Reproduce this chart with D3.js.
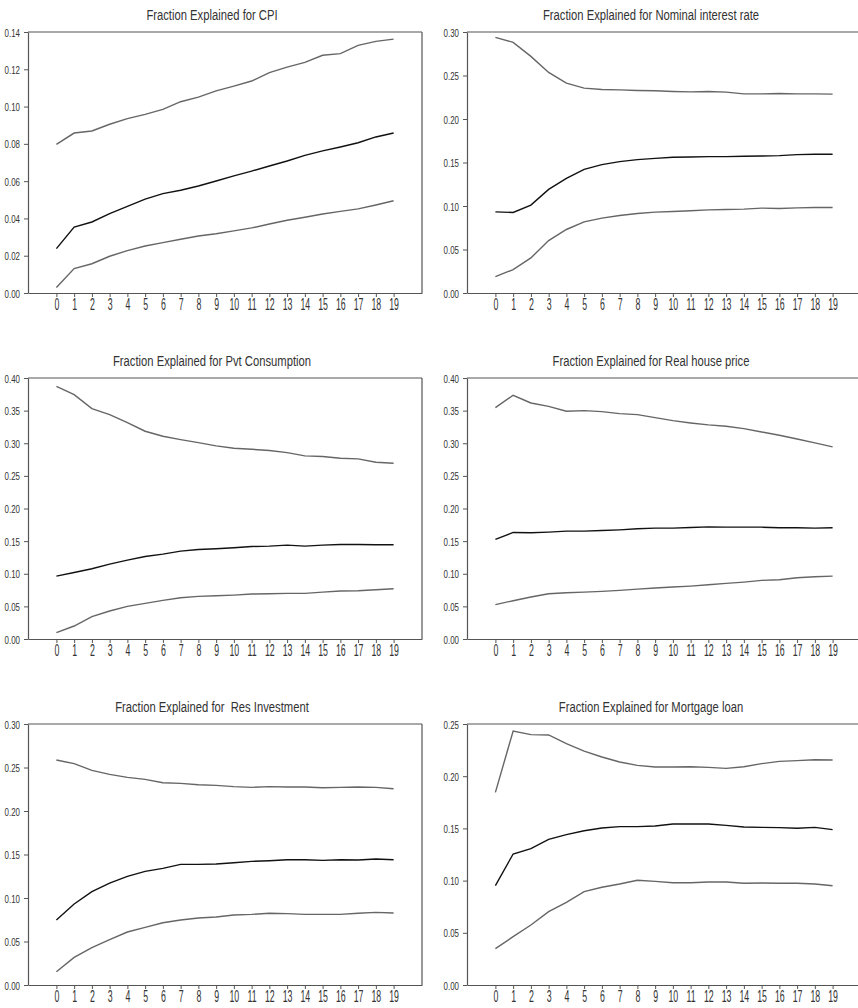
<!DOCTYPE html>
<html>
<head>
<meta charset="utf-8">
<title>Fraction Explained</title>
<script src="https://d3js.org/d3.v7.min.js"></script>
<style>
  html, body { margin: 0; background: #fff; overflow: hidden; }
  text { font-family: "Liberation Sans", Arial, sans-serif; fill: #333; }
  .title { white-space: pre; }
</style>
</head>
<body>
<svg width="858" height="1008"></svg>
<script>
// horizon 0..19
const steps = d3.range(20);

const titles = [
  "Fraction Explained for CPI",
  "Fraction Explained for Nominal interest rate",
  "Fraction Explained for Pvt Consumption",
  "Fraction Explained for Real house price",
  "Fraction Explained for  Res Investment",
  "Fraction Explained for Mortgage loan"
];

// y axis top value and tick step per panel
const yMax  = [0.14, 0.30, 0.40, 0.40, 0.30, 0.25];
const yStep = [0.02, 0.05, 0.05, 0.05, 0.05, 0.05];

// CPI
const cpiUpper = [0.0797,0.0858,0.0869,0.0905,0.0935,0.0958,0.0985,0.1026,0.1051,0.1084,0.1110,0.1137,0.1182,0.1212,0.1237,0.1275,0.1284,0.1328,0.1350,0.1362];
const cpiMean  = [0.0238,0.0354,0.0381,0.0426,0.0465,0.0504,0.0533,0.0551,0.0574,0.0601,0.0628,0.0654,0.0681,0.0708,0.0738,0.0762,0.0783,0.0806,0.0837,0.0858];
const cpiLower = [0.0029,0.0131,0.0157,0.0197,0.0227,0.0252,0.0270,0.0288,0.0306,0.0318,0.0333,0.0349,0.0370,0.0390,0.0406,0.0424,0.0438,0.0451,0.0472,0.0495];

// Nominal interest rate
const rateUpper = [0.2939,0.2881,0.2720,0.2535,0.2412,0.2355,0.2339,0.2335,0.2328,0.2324,0.2316,0.2312,0.2316,0.2309,0.2289,0.2289,0.2293,0.2289,0.2289,0.2286];
const rateMean  = [0.0933,0.0926,0.1010,0.1191,0.1318,0.1421,0.1475,0.1510,0.1533,0.1548,0.1560,0.1563,0.1567,0.1567,0.1571,0.1575,0.1579,0.1590,0.1594,0.1594];
const rateLower = [0.0188,0.0269,0.0403,0.0603,0.0730,0.0818,0.0860,0.0891,0.0914,0.0930,0.0937,0.0945,0.0956,0.0960,0.0964,0.0976,0.0972,0.0979,0.0983,0.0983];

// Pvt Consumption
const consUpper = [0.3872,0.3745,0.3531,0.3439,0.3316,0.3184,0.3107,0.3056,0.3010,0.2959,0.2923,0.2908,0.2888,0.2857,0.2806,0.2796,0.2770,0.2760,0.2709,0.2694];
const consMean  = [0.0964,0.1020,0.1077,0.1148,0.1209,0.1265,0.1301,0.1347,0.1372,0.1383,0.1398,0.1418,0.1423,0.1439,0.1423,0.1439,0.1449,0.1449,0.1444,0.1444];
const consLower = [0.0097,0.0199,0.0342,0.0429,0.0500,0.0546,0.0592,0.0633,0.0653,0.0663,0.0673,0.0689,0.0694,0.0699,0.0699,0.0719,0.0735,0.0740,0.0755,0.0770];

// Real house price
const houseUpper = [0.3546,0.3735,0.3617,0.3566,0.3490,0.3500,0.3485,0.3454,0.3439,0.3393,0.3347,0.3311,0.3281,0.3260,0.3224,0.3173,0.3122,0.3066,0.3005,0.2944];
const houseMean  = [0.1526,0.1633,0.1628,0.1638,0.1653,0.1653,0.1663,0.1673,0.1689,0.1699,0.1699,0.1709,0.1719,0.1714,0.1714,0.1714,0.1704,0.1704,0.1699,0.1704];
const houseLower = [0.0526,0.0587,0.0643,0.0694,0.0709,0.0719,0.0730,0.0745,0.0765,0.0781,0.0796,0.0811,0.0832,0.0852,0.0872,0.0898,0.0908,0.0939,0.0954,0.0964];

// Res Investment
const invUpper = [0.2586,0.2544,0.2467,0.2421,0.2387,0.2364,0.2325,0.2318,0.2302,0.2295,0.2280,0.2272,0.2280,0.2276,0.2276,0.2268,0.2272,0.2276,0.2272,0.2256];
const invMean  = [0.0747,0.0931,0.1073,0.1172,0.1249,0.1306,0.1341,0.1387,0.1387,0.1391,0.1406,0.1421,0.1429,0.1440,0.1440,0.1433,0.1440,0.1437,0.1448,0.1440];
const invLower = [0.0153,0.0318,0.0429,0.0521,0.0609,0.0663,0.0716,0.0747,0.0770,0.0782,0.0805,0.0812,0.0824,0.0820,0.0812,0.0812,0.0812,0.0824,0.0835,0.0828];

// Mortgage loan
const loanUpper = [0.1845,0.2433,0.2398,0.2395,0.2312,0.2241,0.2184,0.2136,0.2104,0.2088,0.2088,0.2091,0.2085,0.2075,0.2091,0.2120,0.2142,0.2149,0.2158,0.2155];
const loanMean  = [0.0951,0.1255,0.1306,0.1395,0.1440,0.1478,0.1504,0.1517,0.1517,0.1523,0.1542,0.1542,0.1542,0.1529,0.1514,0.1510,0.1507,0.1501,0.1510,0.1488];
const loanLower = [0.0348,0.0463,0.0575,0.0702,0.0792,0.0894,0.0936,0.0967,0.1003,0.0993,0.0980,0.0980,0.0987,0.0987,0.0974,0.0977,0.0974,0.0974,0.0967,0.0951];

const uppers = [cpiUpper, rateUpper, consUpper, houseUpper, invUpper, loanUpper];
const means  = [cpiMean, rateMean, consMean, houseMean, invMean, loanMean];
const lowers = [cpiLower, rateLower, consLower, houseLower, invLower, loanLower];

const svg = d3.select("svg");
const w = 394, h = 261;
const lefts = [28, 467];
const tops = [32, 378, 724];
const axisCol = "#555";

const x = d3.scaleLinear().domain([-1.6, 20.6]).range([0, w]);

titles.forEach((t, i) => {
  const left = lefts[i % 2], top = tops[Math.floor(i / 2)];
  const g = svg.append("g").attr("transform", `translate(${left},${top})`);

  const y = d3.scaleLinear().domain([0, yMax[i]]).range([h, 0]);
  const yTicks = d3.range(0, yMax[i] + yStep[i] / 2, yStep[i]);

  // box top + right
  g.append("line").attr("x1", 0).attr("x2", w).attr("y1", 0).attr("y2", 0)
    .attr("stroke", axisCol).attr("stroke-width", 1.2);
  g.append("line").attr("x1", w).attr("x2", w).attr("y1", 0).attr("y2", h)
    .attr("stroke", axisCol).attr("stroke-width", 1.2);

  const yAxis = g.append("g")
    .call(d3.axisLeft(y).tickValues(yTicks).tickFormat(d3.format(".2f")).tickSize(4).tickSizeOuter(0));
  yAxis.selectAll("text")
    .attr("x", null).attr("dy", null)
    .attr("text-anchor", "end")
    .attr("transform", "translate(-8,4) scale(0.72,1)")
    .style("font-size", "11px").style("font-family", null);

  const xAxis = g.append("g").attr("transform", `translate(0,${h})`)
    .call(d3.axisBottom(x).tickValues(steps).tickSize(4).tickSizeOuter(0));
  xAxis.selectAll("text")
    .attr("y", null).attr("dy", null)
    .attr("transform", "translate(0,17) scale(0.8,1.5)")
    .style("font-size", "11px").style("font-family", null);

  [yAxis, xAxis].forEach(a => {
    a.attr("font-family", null);
    a.select(".domain").attr("stroke", axisCol).attr("stroke-width", 1.2);
    a.selectAll(".tick line").attr("stroke", axisCol);
  });

  const line = d3.line().x((d, k) => x(steps[k])).y(d => y(d));
  [[uppers[i], "#666"], [lowers[i], "#666"], [means[i], "#111"]].forEach(([s, c]) => {
    g.append("path").datum(s).attr("d", line)
      .attr("fill", "none").attr("stroke", c).attr("stroke-width", 1.4);
  });

  svg.append("text").attr("class", "title")
    .attr("text-anchor", "middle")
    .attr("transform", `translate(${left + 184},${top - 12.5}) scale(0.75,1)`)
    .style("font-size", "15px")
    .text(t);
});
</script>
</body>
</html>
